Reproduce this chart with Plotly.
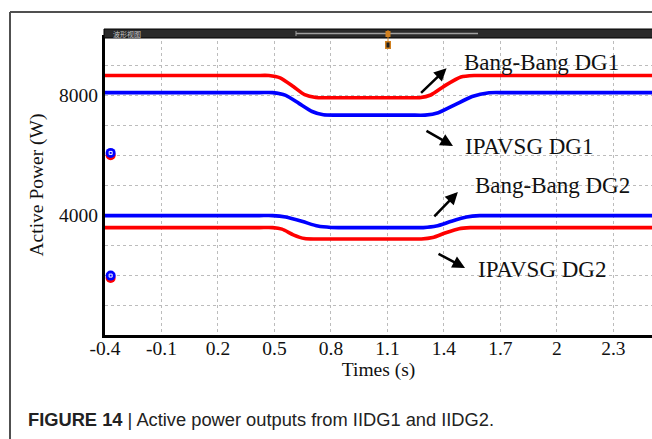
import plotly.graph_objects as go

# ---------------- data ----------------
t_bb_dg1 = [-0.4, 0.40, 0.47, 0.53, 0.60, 0.66, 0.72, 0.80, 1.20, 1.27, 1.33, 1.41, 1.49, 1.56, 1.64, 2.505]
p_bb_dg1 = [8650, 8650, 8650, 8570, 8280, 8010, 7915, 7910, 7910, 7910, 8000, 8330, 8600, 8650, 8650, 8650]

t_ip_dg1 = [-0.4, 0.42, 0.49, 0.56, 0.63, 0.70, 0.76, 0.84, 1.22, 1.30, 1.37, 1.46, 1.55, 1.64, 1.72, 2.505]
p_ip_dg1 = [8080, 8080, 8080, 7990, 7720, 7450, 7340, 7330, 7330, 7330, 7410, 7680, 7950, 8075, 8080, 8080]

t_bb_dg2 = [-0.4, 0.42, 0.49, 0.56, 0.65, 0.73, 0.80, 0.88, 1.22, 1.29, 1.36, 1.44, 1.52, 1.59, 1.66, 2.505]
p_bb_dg2 = [3980, 3980, 3980, 3930, 3780, 3630, 3585, 3580, 3580, 3580, 3630, 3790, 3930, 3978, 3980, 3980]

t_ip_dg2 = [-0.4, 0.42, 0.49, 0.54, 0.60, 0.66, 0.72, 1.20, 1.28, 1.34, 1.41, 1.48, 1.54, 1.62, 2.505]
p_ip_dg2 = [3580, 3580, 3580, 3530, 3340, 3215, 3200, 3200, 3200, 3250, 3410, 3545, 3578, 3580, 3580]

cursor_t = [-0.37, -0.37]
cursor_blue = [6070, 1980]
cursor_red = [5990, 1900]

x_tickvals = [-0.4, -0.1, 0.2, 0.5, 0.8, 1.1, 1.4, 1.7, 2.0, 2.3]
x_ticktext = ["-0.4", "-0.1", "0.2", "0.5", "0.8", "1.1", "1.4", "1.7", "2", "2.3"]
y_tickvals = [4000, 8000]
y_ticktext = ["4000", "8000"]
y_minor_grid = [1000, 2000, 3000, 5000, 6000, 7000, 9000]

labels = ["Bang-Bang DG1", "IPAVSG DG1", "Bang-Bang DG2", "IPAVSG DG2"]
label_t = [1.496, 1.501, 1.554, 1.570]
label_p = [9100, 6267, 4967, 2167]
arrow_head_t = [1.414, 1.448, 1.474, 1.512]
arrow_head_p = [8890, 6300, 4767, 2233]
arrow_ax = [-27, -28, -25, -28]
arrow_ay = [26, -16, 26, -15]

RED = "#ff0000"
BLUE = "#0000ff"
SERIF = "Liberation Serif, Times New Roman, serif"

# ---------------- figure ----------------
W, H = 652, 439
L, R, T, B = 105, 0, 35, 104
PW, PH = W - L - R, H - T - B

def px_x(x):
    return (x - L) / PW

def px_y(y):
    return (H - B - y) / PH

fig = go.Figure()
series = [
    (t_bb_dg1, p_bb_dg1, RED, labels[0]),
    (t_ip_dg1, p_ip_dg1, BLUE, labels[1]),
    (t_bb_dg2, p_bb_dg2, BLUE, labels[2]),
    (t_ip_dg2, p_ip_dg2, RED, labels[3]),
]
for tx, py, c, n in series:
    fig.add_trace(go.Scatter(x=tx, y=py, mode="lines", name=n,
                             line=dict(color=c, width=3.6, shape="spline", smoothing=0.6),
                             hoverinfo="skip"))

fig.add_trace(go.Scatter(x=cursor_t, y=cursor_red, mode="markers",
                         marker=dict(color=RED, size=10, symbol="circle"), hoverinfo="skip"))
fig.add_trace(go.Scatter(x=cursor_t, y=cursor_blue, mode="markers",
                         marker=dict(color=BLUE, size=10, symbol="circle"), hoverinfo="skip"))
fig.add_trace(go.Scatter(x=cursor_t, y=cursor_blue, mode="markers",
                         marker=dict(color="white", size=3, symbol="square-open",
                                     line=dict(color="white", width=1)), hoverinfo="skip"))

GRID = "#bcbcbc"
fig.update_xaxes(range=[-0.4, 2.505], tickvals=x_tickvals, ticktext=x_ticktext,
                 showgrid=True, gridcolor=GRID, griddash="dot", gridwidth=1,
                 showline=True, linecolor="black", linewidth=3, zeroline=False,
                 ticks="", ticklabelstandoff=-6,
                 tickfont=dict(family=SERIF, size=19.5, color="#111"),
                 title=dict(text="Times (s)", font=dict(family=SERIF, size=19.5, color="#111"),
                            standoff=2))
fig.update_yaxes(range=[0, 10000], tickvals=y_tickvals, ticktext=y_ticktext,
                 showgrid=True, gridcolor=GRID, griddash="dot", gridwidth=1,
                 minor=dict(tickvals=y_minor_grid, showgrid=True, gridcolor=GRID,
                            griddash="dot", gridwidth=1, ticks=""),
                 showline=True, linecolor="black", linewidth=3, zeroline=False,
                 ticks="", tickfont=dict(family=SERIF, size=19.5, color="#111"),
                 title=dict(text="Active Power (W)", font=dict(family=SERIF, size=19.5, color="#111"),
                            standoff=11))

shapes = []
# outer frame
shapes.append(dict(type="line", xref="paper", yref="paper", x0=px_x(10), x1=px_x(670),
                   y0=px_y(12), y1=px_y(12), line=dict(color="#505050", width=2)))
shapes.append(dict(type="line", xref="paper", yref="paper", x0=px_x(10), x1=px_x(10),
                   y0=px_y(12), y1=px_y(450), line=dict(color="#505050", width=2)))
# dark title bar of waveform view
shapes.append(dict(type="rect", xref="paper", yref="paper", x0=px_x(104), x1=px_x(670),
                   y0=px_y(38), y1=px_y(29), fillcolor="#2a2a2a", line=dict(color="black", width=1)))
shapes.append(dict(type="line", xref="paper", yref="paper", x0=px_x(296), x1=px_x(478),
                   y0=px_y(33.5), y1=px_y(33.5), line=dict(color="#a0a0a0", width=1.5)))
shapes.append(dict(type="line", xref="paper", yref="paper", x0=px_x(296), x1=px_x(296),
                   y0=px_y(31), y1=px_y(36), line=dict(color="#a0a0a0", width=1)))
# orange cursor
shapes.append(dict(type="line", xref="paper", yref="paper", x0=px_x(388), x1=px_x(388),
                   y0=px_y(30), y1=px_y(49), line=dict(color="#d08020", width=1)))
shapes.append(dict(type="rect", xref="paper", yref="paper", x0=px_x(385.5), x1=px_x(390.5),
                   y0=px_y(37), y1=px_y(31), fillcolor="#d08020", line=dict(width=0)))
shapes.append(dict(type="rect", xref="paper", yref="paper", x0=px_x(385), x1=px_x(391),
                   y0=px_y(49), y1=px_y(41), fillcolor="#d08020", line=dict(width=0)))
shapes.append(dict(type="rect", xref="paper", yref="paper", x0=px_x(386.5), x1=px_x(389.5),
                   y0=px_y(47.5), y1=px_y(42.5), fillcolor="#202020", line=dict(width=0)))
fig.update_layout(shapes=shapes)

ann = []
for i in range(4):
    ann.append(dict(x=label_t[i], y=label_p[i], xref="x", yref="y", text=labels[i],
                    showarrow=False, xanchor="left", yanchor="middle",
                    font=dict(family=SERIF, size=23, color="#111")))
    ann.append(dict(x=arrow_head_t[i], y=arrow_head_p[i], xref="x", yref="y", text="",
                    showarrow=True, ax=arrow_ax[i], ay=arrow_ay[i], arrowhead=2,
                    arrowsize=1, arrowwidth=2.5, arrowcolor="black"))
ann.append(dict(x=px_x(111), y=px_y(33.5), xref="paper", yref="paper", text="波形视图",
                showarrow=False, xanchor="left", yanchor="middle",
                font=dict(family="Noto Sans CJK SC", size=7, color="#c8c8c8")))
ann.append(dict(x=px_x(26), y=px_y(419), xref="paper", yref="paper",
                text="<b>FIGURE 14</b> | Active power outputs from IIDG1 and IIDG2.",
                showarrow=False, xanchor="left", yanchor="middle",
                font=dict(family="Liberation Sans, Arial, sans-serif", size=18.3, color="#222")))
fig.update_layout(annotations=ann)

fig.update_layout(width=W, height=H, autosize=False,
                  margin=dict(l=L, r=R, t=T, b=B, pad=0),
                  plot_bgcolor="white", paper_bgcolor="white", showlegend=False,
                  hovermode=False)

fig.write_html("out.html", config={"displayModeBar": False, "staticPlot": True},
               post_script="document.body.style.margin='0';document.body.style.overflow='hidden';")
